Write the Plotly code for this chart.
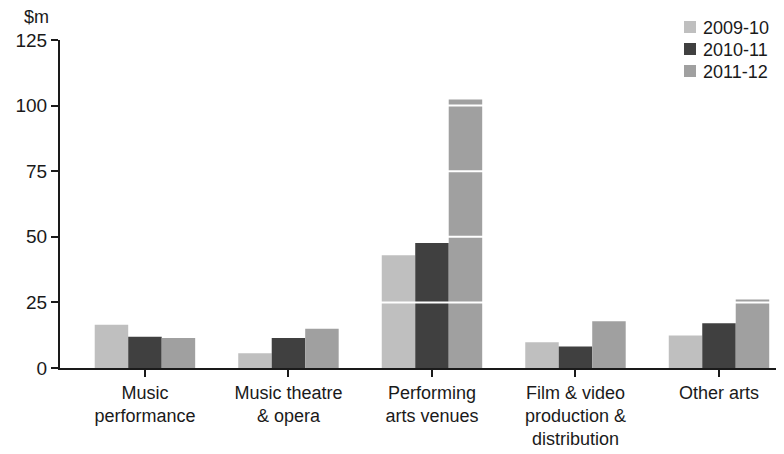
import plotly.graph_objects as go

categories = ["Music<br>performance", "Music theatre<br>& opera", "Performing<br>arts venues",
              "Film & video<br>production &<br>distribution", "Other arts"]
series_names = ["2009-10", "2010-11", "2011-12"]
v2009 = [16.5, 5.6, 43.0, 9.8, 12.4]
v2010 = [11.9, 11.4, 47.6, 8.2, 17.1]
v2011 = [11.4, 15.0, 102.3, 17.8, 26.1]
colors = ["#bfbfbf", "#404040", "#a0a0a0"]
y_ticks = [0, 25, 50, 75, 100, 125]

# page body has an 8px margin; figure is sized to compensate
W, H = 776, 446
L, R, T, B = 52, 0, 32, 86
PW, PH = W - L - R, H - T - B


def px_x(sx):
    return (sx - 8 - L) / PW


def px_y(sy):
    return (H - B - (sy - 8)) / PH


font = dict(family="Liberation Sans, Arial, sans-serif", size=18, color="#1a1a1a")

fig = go.Figure()
for name, vals, c in zip(series_names, [v2009, v2010, v2011], colors):
    fig.add_trace(go.Bar(x=list(range(len(categories))), y=vals, name=name,
                         marker=dict(color=c, line=dict(width=0))))

# white gridlines drawn over bars
for t in y_ticks[1:-1]:
    fig.add_shape(type="line", xref="paper", x0=0, x1=1, yref="y", y0=t, y1=t,
                  line=dict(color="white", width=2), layer="above")

annotations = [dict(text="$m", xref="paper", yref="paper", x=px_x(36), y=px_y(17),
                    xanchor="center", yanchor="middle", showarrow=False, font=dict(size=18))]

# manual legend
for i, (name, c) in enumerate(zip(series_names, colors)):
    cy = 27 + 22 * i
    fig.add_shape(type="rect", xref="paper", yref="paper",
                  x0=px_x(684), x1=px_x(696), y0=px_y(cy - 6), y1=px_y(cy + 6),
                  fillcolor=c, line=dict(width=0), layer="above")
    annotations.append(dict(text=name, xref="paper", yref="paper", x=px_x(701), y=px_y(cy + 1),
                            xanchor="left", yanchor="middle", showarrow=False,
                            font=dict(size=18)))

fig.update_layout(
    width=W, height=H,
    margin=dict(l=L, r=R, t=T, b=B, autoexpand=False),
    paper_bgcolor="white", plot_bgcolor="white",
    barmode="group", bargap=0.3, bargroupgap=0,
    font=font,
    showlegend=False,
    xaxis=dict(range=[-0.592, 4.453], tickmode="array", tickvals=list(range(len(categories))),
               ticktext=categories, showgrid=False, zeroline=False, automargin=False,
               showline=True, linecolor="#1a1a1a", linewidth=2,
               ticks="outside", ticklen=7, tickwidth=2, tickcolor="#1a1a1a"),
    yaxis=dict(range=[0, 125], tickvals=y_ticks, showgrid=False, zeroline=False, automargin=False,
               showline=True, linecolor="#1a1a1a", linewidth=2, tickfont=dict(size=19),
               ticks="outside", ticklen=7, tickwidth=2, tickcolor="#1a1a1a"),
    annotations=annotations,
)

fig.write_html("out.html")
